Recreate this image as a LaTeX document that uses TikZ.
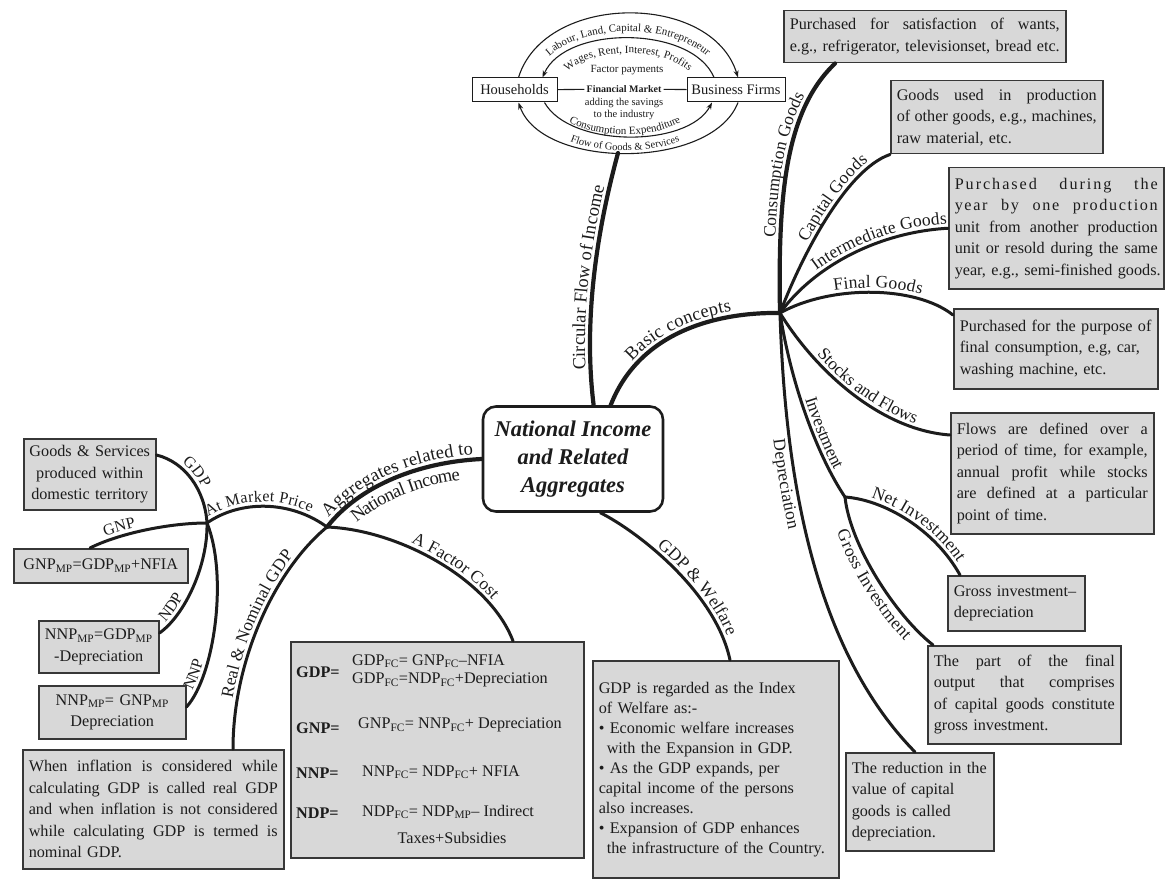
\documentclass[tikz,border=0pt]{standalone}
\usepackage{fontspec}
\setmainfont{Liberation Serif}
\usetikzlibrary{decorations.text,arrows.meta}
\setlength{\parindent}{0pt}
\definecolor{boxfill}{RGB}{216,216,216}
\definecolor{boxline}{RGB}{55,55,55}
\definecolor{ink}{RGB}{28,28,28}
\newcommand{\jl}[1]{\makebox[\hsize][s]{\spaceskip=0pt\xspaceskip=0pt\relax #1}}
\newcommand{\fbx}{\fontsize{16.2}{21.5}\selectfont}
\newcommand{\fA}{\fontsize{17.5}{17.5}\selectfont}
\newcommand{\fB}{\fontsize{18.5}{18.5}\selectfont}
\newcommand{\fC}{\fontsize{16}{16}\selectfont}
\newcommand{\fS}{\fontsize{11}{11}\selectfont}
\begin{document}
\begin{tikzpicture}[x=1pt,y=-1pt,
  box/.style={draw=boxline, fill=boxfill, line width=1.5pt, inner xsep=6pt, inner ysep=3pt, anchor=north west, font=\fbx, text=ink, align=left},
  cbox/.style={box, align=center},
  br/.style={draw=ink, line width=3pt, line cap=round},
  brM/.style={draw=ink, line width=4.2pt, line cap=round},
  lab/.style n args={3}{postaction={decorate, decoration={text along path, text={#1}, text color=ink, text align={#2}, raise=#3}}},
  arr/.style={draw=ink, line width=1.1pt, -{Stealth[length=7pt,width=5pt]}},
  thinl/.style={draw=ink, line width=1.1pt},
  hf/.style={draw=ink, line width=1pt, fill=white, font=\fontsize{14.5}{14.5}\selectfont, text=ink, minimum height=24pt, inner xsep=3pt},
  fx/.style={anchor=west, inner sep=0pt, font=\fbx, text=ink},
  fxb/.style={fx, font=\fbx\bfseries},
  ctr/.style={draw=ink, line width=2.6pt, rounded corners=13pt, minimum width=180pt, minimum height=105pt, align=center, fill=white, text=ink, font=\fontsize{22.5}{28}\selectfont\bfseries\itshape}
]
\useasboundingbox (0,0) rectangle (1165,880);

% ---------- circular flow ----------
\node[hf, minimum width=85pt] (hh) at (514.5,90) {Households};
\node[hf, minimum width=98pt] (bf) at (736,90) {Business Firms};
\node[font=\fontsize{10}{10}\selectfont\bfseries, inner sep=2pt, text=ink] (fm) at (624,89) {Financial Market};
\node[font=\fontsize{10.5}{12}\selectfont, align=center, text=ink, inner sep=0pt] (sav) at (624,109) {adding the savings\\to the industry};
\node[font=\fS, text=ink, inner sep=0pt] (fp) at (627,70) {Factor payments};
\draw[thinl] (hh) -- (fm);
\draw[thinl] (fm) -- (bf);
\draw[arr] ([xshift=4pt]hh.north) .. controls (545,-8) and (712,-8) .. ([xshift=2pt]bf.north);
\draw[arr] ([xshift=-22pt]bf.north) .. controls (692,25) and (565,25) .. ([xshift=28pt]hh.north);
\draw[arr] ([xshift=30pt]hh.south) .. controls (570,148) and (688,148) .. ([xshift=-24pt]bf.south);
\draw[arr] ([xshift=2pt]bf.south) .. controls (712,170) and (542,170) .. ([xshift=4pt]hh.south);
\path[decorate, decoration={text along path, text={|\fS|Labour, Land, Capital {\&} Entrepreneur}, text color=ink, text align=center}] (538,72) .. controls (562,18) and (694,18) .. (718,72);
\path[decorate, decoration={text along path, text={|\fS|Wages, Rent, Interest, Profits}, text color=ink, text align=center}] (560,80) .. controls (582,44) and (674,44) .. (696,80);
\path[decorate, decoration={text along path, text={|\fS|Consumption Expenditure}, text color=ink, text align=center}] (556,112) .. controls (582,142) and (668,142) .. (694,112);
\path[decorate, decoration={text along path, text={|\fontsize{10.5}{10.5}\selectfont|Flow of Goods {\&} Services}, text color=ink, text align=center}] (550,128) .. controls (578,158) and (672,158) .. (700,128);

\coordinate (cfb) at (618,153);
\coordinate (hub) at (780,313);
\coordinate (sub) at (845,497);
\coordinate (j1) at (327,527);
\coordinate (j2) at (207,523);

% ---------- boxes ----------
\node[box, text width=270pt, minimum height=52pt] (b1) at (783,10) {\jl{Purchased for satisfaction of wants,}\\\jl{e.g., refrigerator, televisionset, bread etc.}};
\node[box, text width=200pt, minimum height=73pt] (b2) at (890,80) {\jl{Goods used in production}\\\jl{of other goods, e.g., machines,}\\\mbox{raw material, etc.}};
\node[box, text width=203pt, minimum height=121pt] (b3) at (948,167) {\jl{\addfontfeature{LetterSpace=12}Purchased during the}\\\jl{\addfontfeature{LetterSpace=10}year by one production}\\\jl{unit from another production}\\\jl{unit or resold during the same}\\\mbox{year, e.g., semi-finished goods.}};
\node[box, text width=192pt, minimum height=80pt] (b4) at (953,308) {\mbox{Purchased for the purpose of}\\\mbox{final consumption, e.g, car,}\\\mbox{washing machine, etc.}};
\node[box, text width=191pt, minimum height=121pt] (b5) at (950,412) {\jl{Flows are defined over a}\\\jl{period of time, for example,}\\\jl{annual profit while stocks}\\\jl{are defined at a particular}\\\mbox{point of time.}};
\node[box, text width=125pt, minimum height=55pt] (b6) at (947,575) {\mbox{Gross investment–}\\\mbox{depreciation}};
\node[box, text width=181pt, minimum height=98pt] (b7) at (927,645) {\jl{The part of the final}\\\jl{output that comprises}\\\jl{of capital goods constitute}\\\mbox{gross investment.}};
\node[box, text width=136pt, minimum height=98pt] (b8) at (845,752) {\mbox{The reduction in the}\\\mbox{value of capital}\\\mbox{goods is called}\\\mbox{depreciation.}};

\node[cbox, text width=122pt, inner xsep=5pt, minimum height=71pt] (l1) at (23,438) {\mbox{Goods \& Services}\\\mbox{produced within}\\\mbox{domestic territory}};
\node[cbox, text width=162pt, minimum height=34pt] (l2) at (13,548) {\mbox{GNP\textsubscript{MP}=GDP\textsubscript{MP}+NFIA}};
\node[cbox, text width=110pt, inner xsep=5pt, minimum height=52pt] (l3) at (38,620) {\mbox{NNP\textsubscript{MP}=GDP\textsubscript{MP}}\\\mbox{-Depreciation}};
\node[cbox, text width=135pt, minimum height=53pt] (l4) at (38,685) {\mbox{NNP\textsubscript{MP}= GNP\textsubscript{MP}}\\\mbox{Depreciation}};
\node[box, text width=249pt, minimum height=119pt] (l5) at (22,749) {\jl{When inflation is considered while}\\\jl{calculating GDP is called real GDP}\\\jl{and when inflation is not considered}\\\jl{while calculating GDP is termed is}\\\mbox{nominal GDP.}};

\node[draw=boxline, fill=boxfill, line width=1.5pt, anchor=north west, minimum width=293pt, minimum height=216pt, inner sep=0pt] (fb) at (290,641) {};
\node[fxb] (fgdp) at (296,672) {GDP=};
\node[fx] (f1) at (352,661) {GDP\textsubscript{FC}= GNP\textsubscript{FC}–NFIA};
\node[fx] (f2) at (352,680) {GDP\textsubscript{FC}=NDP\textsubscript{FC}+Depreciation};
\node[fxb] (fgnp) at (296,728) {GNP=};
\node[fx] (f3) at (358,725) {GNP\textsubscript{FC}= NNP\textsubscript{FC}+ Depreciation};
\node[fxb] (fnnp) at (296,773) {NNP=};
\node[fx] (f4) at (362,772) {NNP\textsubscript{FC}= NDP\textsubscript{FC}+ NFIA};
\node[fxb] (fndp) at (296,813) {NDP=};
\node[fx] (f5) at (362,812) {NDP\textsubscript{FC}= NDP\textsubscript{MP}– Indirect};
\node[fx, anchor=center] (f6) at (452,838) {Taxes+Subsidies};

\node[box, text width=234pt, minimum height=217pt, font=\fontsize{16.2}{20}\selectfont] (wb) at (592,660) {\mbox{GDP is regarded as the Index}\\\mbox{of Welfare as:-}\\\mbox{\textbullet\ Economic welfare increases}\\\mbox{\hspace*{8pt}with the Expansion in GDP.}\\\mbox{\textbullet\ As the GDP expands, per}\\\mbox{capital income of the persons}\\\mbox{also increases.}\\\mbox{\textbullet\ Expansion of GDP enhances}\\\mbox{\hspace*{8pt}the infrastructure of the Country.}\\[6pt]};

% ---------- central node ----------
\node[ctr] (ni) at (573,459) {National Income\\and Related\\Aggregates};

% ---------- branches ----------
\draw[brM, lab={|\fB|Circular Flow of Income}{center}{5pt}] (ni.69) .. controls (583,320) and (597,230) .. (cfb);
\draw[brM, lab={|\fB|Basic concepts}{center}{5pt}] (ni.55) .. controls (640,330) and (720,312) .. (hub);
\draw[brM, lab={|\fB|Aggregates related to}{center}{5pt}, lab={|\fB|National Income}{left indent=26pt}{-19pt}] (j1) .. controls (360,485) and (420,462) .. (ni.west);
\draw[br, lab={|\fA|GDP {\&} Welfare}{left indent=65pt}{4.5pt}] (ni.297) .. controls (635,530) and (715,590) .. ([xshift=138pt]wb.north west);

\draw[brM, lab={|\fA|Consumption Goods}{left indent=75pt}{5pt}] (hub) .. controls (778,200) and (784,112) .. ([xshift=52pt]b1.south west);
\draw[br, lab={|\fA|Capital Goods}{left indent=75pt}{4.5pt}] (hub) .. controls (800,260) and (845,170) .. (b2.south west);
\draw[br, lab={|\fA|Intermediate Goods}{left indent=55pt}{4.5pt}] (hub) .. controls (815,265) and (880,232) .. (b3.west);
\draw[br, lab={|\fA|Final Goods}{left indent=58pt}{4.5pt}] (hub) .. controls (830,285) and (915,285) .. ([yshift=-7pt]b4.north west);
\draw[br, lab={|\fA|Stocks and Flows}{left indent=56pt}{4.5pt}] (hub) .. controls (815,370) and (880,430) .. ([yshift=-23pt]b5.north west);
\draw[br, lab={|\fA|Investment}{left indent=90pt}{4.5pt}] (hub) .. controls (792,390) and (820,460) .. (sub);
\draw[br, lab={|\fA|Net Investment}{left indent=25pt}{4.5pt}] (sub) .. controls (885,500) and (935,530) .. ([xshift=13pt]b6.north west);
\draw[br, lab={|\fA|Gross Investment}{left indent=30pt}{-16pt}] (sub) .. controls (850,545) and (895,615) .. ([xshift=6pt]b7.north west);
\draw[br, lab={|\fA|Depreciation}{left indent=125pt}{-16pt}] (hub) .. controls (785,480) and (815,650) .. ([xshift=70pt]b8.north west);

\draw[br, lab={|\fC|At Market Price}{left indent=4pt}{4.5pt}] (j2) .. controls (240,500) and (290,500) .. (j1);
\draw[br, lab={|\fA|A Factor Cost}{left indent=85pt}{4.5pt}] (j1) .. controls (400,530) and (490,580) .. ([xshift=223pt]fb.north west);
\draw[br, lab={|\fA|Real {\&} Nominal GDP}{left indent=50pt}{4.5pt}] ([xshift=211pt]l5.north west) .. controls (233,660) and (275,570) .. (j1);
\draw[br, lab={|\fC|GDP}{left indent=25pt}{4.5pt}] ([yshift=-17pt]l1.north east) .. controls (185,462) and (205,490) .. (j2);
\draw[br, lab={|\fC|GNP}{left indent=18pt}{4.5pt}] ([xshift=77pt]l2.north west) .. controls (120,533) and (170,523) .. (j2);
\draw[br, lab={|\fC|NDP}{left indent=12pt}{4.5pt}] ([yshift=-13pt]l3.north east) .. controls (185,615) and (208,565) .. (j2);
\draw[br, lab={|\fC|NNP}{left indent=18pt}{4.5pt}] ([yshift=-22pt]l4.north east) .. controls (215,675) and (228,575) .. (j2);
\end{tikzpicture}
\end{document}
